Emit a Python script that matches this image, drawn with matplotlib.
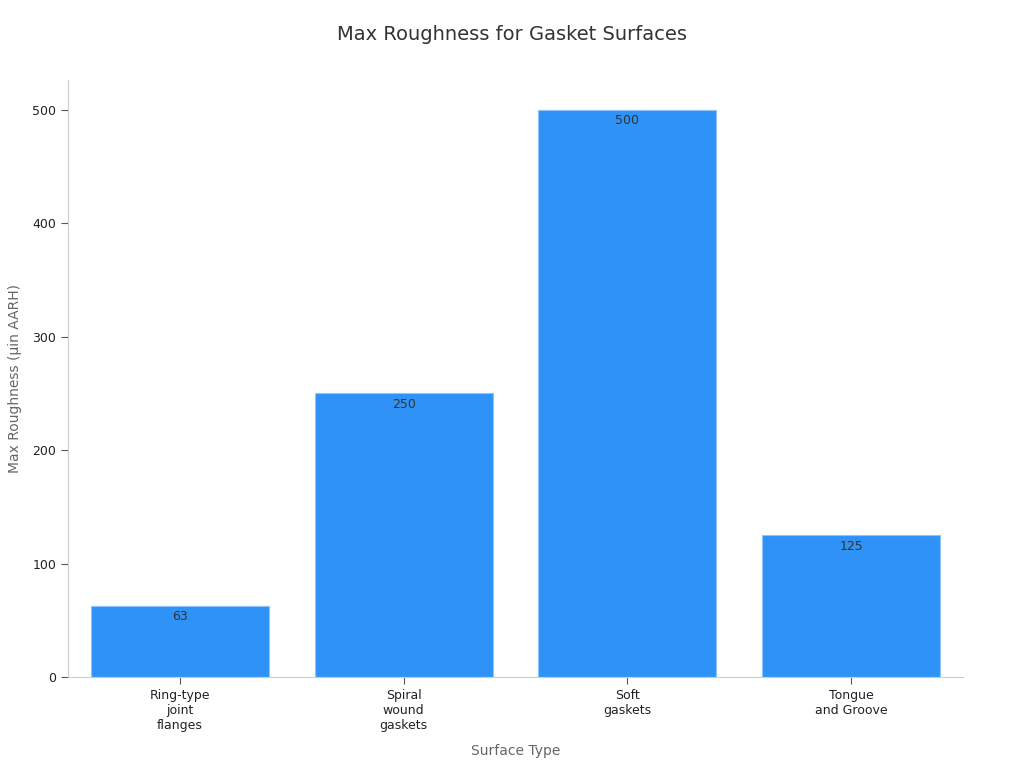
import matplotlib
matplotlib.use('Agg')
from matplotlib import pyplot as plt

categories = ['Ring-type\njoint\nflanges', 'Spiral\nwound\ngaskets', 'Soft\ngaskets', 'Tongue\nand Groove']
values = [63, 250, 500, 125]
yticks = [0, 100, 200, 300, 400, 500]

fig = plt.figure(figsize=(10.24, 7.68), dpi=100)
ax = fig.add_axes([0.0664, 0.1185, 0.8740, 0.7775])

bars = ax.bar(range(len(categories)), values, width=0.795, color='#2f92f7', edgecolor='#8cc4fb', linewidth=0.8)
for b, v in zip(bars, values):
    ax.text(b.get_x() + b.get_width() / 2, v - 4, str(v), ha='center', va='top', fontsize=9, color='#333333')

ax.set_xlim(-0.5, 3.5)
ax.set_ylim(0, 526.5)
ax.set_xticks(range(len(categories)))
ax.set_xticklabels(categories, fontsize=9, color='#222222')
ax.set_yticks(yticks)
ax.set_yticklabels([str(t) for t in yticks], fontsize=9, color='#222222')
ax.tick_params(axis='both', colors='#555555', labelcolor='#222222', length=5)

for s in ['top', 'right']:
    ax.spines[s].set_visible(False)
for s in ['left', 'bottom']:
    ax.spines[s].set_color('#cccccc')

ax.set_xlabel('Surface Type', fontsize=10, color='#666666', labelpad=9)
ax.set_ylabel('Max Roughness (µin AARH)', fontsize=10, color='#666666', labelpad=7)
fig.suptitle('Max Roughness for Gasket Surfaces', fontsize=14, color='#333333', y=0.968)

fig.savefig('out.png', dpi=100)
